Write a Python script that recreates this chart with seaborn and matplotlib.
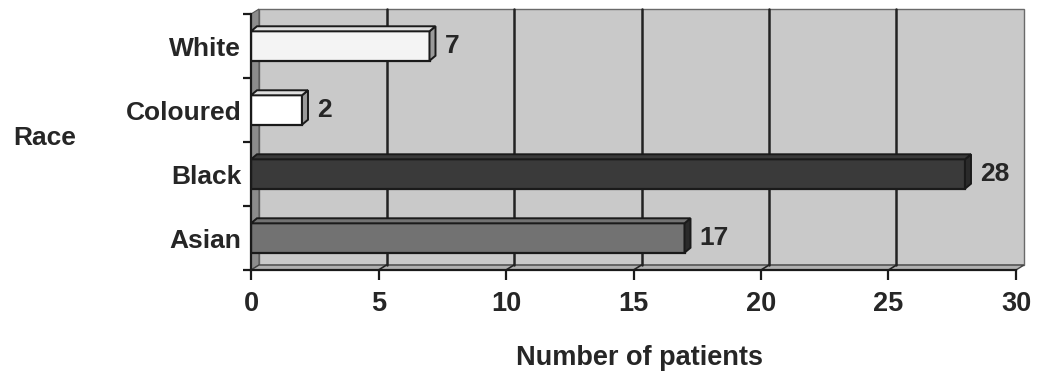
import matplotlib
matplotlib.use("Agg")
import matplotlib.pyplot as plt
from matplotlib.patches import Polygon
import seaborn as sns
import pandas as pd
import numpy as np

categories = ["White", "Coloured", "Black", "Asian"]
values = [7, 2, 28, 17]
bar_colors = ["#f4f4f4", "#ffffff", "#3a3a3a", "#727272"]
xticks = [0, 5, 10, 15, 20, 25, 30]

sns.set_theme(style="white")
plt.rcParams["font.family"] = ["Liberation Sans", "DejaVu Sans"]
plt.rcParams["font.weight"] = "bold"

DPI = 100
fig = plt.figure(figsize=(10.43, 3.74), dpi=DPI)
ax = fig.add_axes([251 / 1043, (374 - 270) / 374, (1016 - 251) / 1043, (270 - 14) / 374])
ax.set_zorder(2)

df = pd.DataFrame({"Race": categories, "Patients": values})
sns.barplot(data=df, x="Patients", y="Race", hue="Race", palette=bar_colors,
            orient="h", width=0.46, edgecolor="#1a1a1a", linewidth=1.6,
            legend=False, ax=ax, zorder=5)

ax.set_xlim(0, 30)
ax.set_ylim(len(categories) - 0.5, -0.5)
ax.set_xticks(xticks)
ax.set_xticklabels([str(t) for t in xticks], fontsize=19.5, fontweight="bold", color="#262626")
ax.tick_params(axis="x", length=7, width=1.6, color="#1a1a1a", pad=8, direction="out", bottom=True)
ax.set_yticks(range(len(categories)))
ax.set_yticklabels(categories, fontsize=19, fontweight="bold", color="#262626")
ax.tick_params(axis="y", which="major", length=0, pad=7)
ax.set_yticks(np.arange(-0.5, len(categories)), minor=True)
ax.tick_params(axis="y", which="minor", length=6, width=1.6, color="#1a1a1a", direction="out", left=True)
ax.set_xlabel("")
ax.set_ylabel("")
for s in ["top", "right"]:
    ax.spines[s].set_visible(False)
for s in ["left", "bottom"]:
    ax.spines[s].set_linewidth(1.6)
    ax.spines[s].set_color("#1a1a1a")
    ax.spines[s].set_zorder(8)
ax.patch.set_alpha(0)

# 3-D walls (back wall offset by depth)
dx, dy = 8, 5
fig.canvas.draw()

def disp(xa, ya, back=False):
    px, py = ax.transAxes.transform((xa, ya))
    if back:
        px += dx
        py += dy
    return (px, py)

back = Polygon([disp(0, 0, True), disp(1, 0, True), disp(1, 1, True), disp(0, 1, True)],
               closed=True, transform=None, facecolor="#c9c9c9", edgecolor="#6a6a6a",
               linewidth=1.0, zorder=0)
fig.add_artist(back)
left_wall = Polygon([disp(0, 0), disp(0, 0, True), disp(0, 1, True), disp(0, 1)],
                    closed=True, transform=None, facecolor="#8c8c8c", edgecolor="#555555",
                    linewidth=0.8, zorder=0.5)
fig.add_artist(left_wall)
floor = Polygon([disp(0, 0), disp(1, 0), disp(1, 0, True), disp(0, 0, True)],
                closed=True, transform=None, facecolor="#b0b0b0", edgecolor="#444444",
                linewidth=1.0, zorder=0.5)
fig.add_artist(floor)

# gridlines on the back wall
for t in xticks[1:-1]:
    xa = (t - 0) / 30
    p0 = disp(xa, 0, True)
    p1 = disp(xa, 1, True)
    fig.add_artist(plt.Line2D([p0[0], p1[0]], [p0[1], p1[1]], transform=None,
                              color="#222222", linewidth=1.8, zorder=1))
    f0 = disp(xa, 0)
    fig.add_artist(plt.Line2D([f0[0], p0[0]], [f0[1], p0[1]], transform=None,
                              color="#222222", linewidth=1.2, zorder=1))

# 3-D faces of bars
bdx, bdy = 6, 5
for patch, col in zip(ax.patches, bar_colors):
    x0, y0 = patch.get_x(), patch.get_y()
    w, h = patch.get_width(), patch.get_height()
    (ax0, ay_a) = ax.transData.transform((x0, y0))
    (ax1, ay_b) = ax.transData.transform((x0 + w, y0 + h))
    ytop, ybot = max(ay_a, ay_b), min(ay_a, ay_b)
    light = col in ("#f4f4f4", "#ffffff")
    shade = "#9a9a9a" if light else "#2a2a2a"
    topc = "#e0e0e0" if light else col
    side = Polygon([(ax1, ybot), (ax1 + bdx, ybot + bdy), (ax1 + bdx, ytop + bdy), (ax1, ytop)],
                   closed=True, transform=None, facecolor=shade, edgecolor="#1a1a1a",
                   linewidth=1.4, zorder=6)
    top = Polygon([(ax0, ytop), (ax1, ytop), (ax1 + bdx, ytop + bdy), (ax0 + bdx, ytop + bdy)],
                  closed=True, transform=None, facecolor=topc, edgecolor="#1a1a1a",
                  linewidth=1.4, zorder=6)
    fig.add_artist(side)
    fig.add_artist(top)

# value labels
for patch, v in zip(ax.patches, values):
    yc = patch.get_y() + patch.get_height() / 2
    ax.annotate(str(v), (patch.get_x() + patch.get_width(), yc), xytext=(15, 0),
                textcoords="offset pixels", ha="left", va="center",
                fontsize=19, fontweight="bold", color="#262626", zorder=9)

fig.text(45 / 1043, 1 - 138 / 374, "Race", ha="center", va="center",
         fontsize=19, fontweight="bold", color="#262626")
fig.text(639 / 1043, 1 - 358 / 374, "Number of patients", ha="center", va="center",
         fontsize=19.5, fontweight="bold", color="#262626")

fig.savefig("out.png", dpi=DPI, facecolor="white")
